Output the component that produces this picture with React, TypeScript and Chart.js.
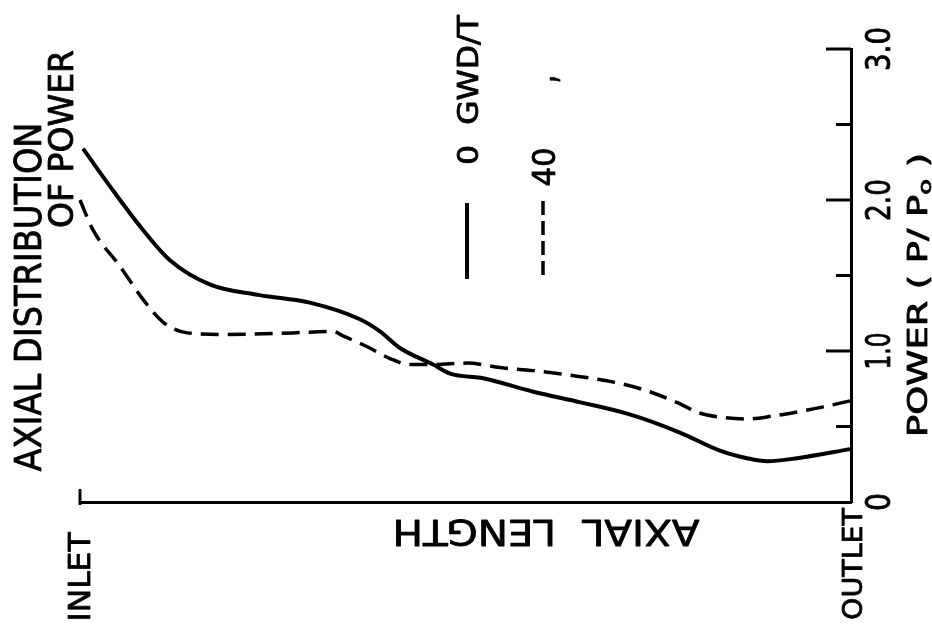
import React, { useEffect, useRef } from "react";
import { Chart, registerables } from "chart.js";

Chart.register(...registerables);

// Axial position (0 = inlet, 1 = outlet) and relative power P/Po
const axialPos0 = [0.004, 0.039, 0.082, 0.117, 0.169, 0.233, 0.298, 0.363, 0.389, 0.415, 0.458, 0.48, 0.523, 0.588, 0.649, 0.713, 0.778, 0.83, 0.865, 0.891, 0.93, 0.999];
const power0 = [2.34, 2.09, 1.8, 1.6, 1.44, 1.37, 1.32, 1.21, 1.13, 1.02, 0.91, 0.85, 0.82, 0.73, 0.66, 0.58, 0.46, 0.34, 0.29, 0.27, 0.29, 0.35];

const axialPos40 = [0, 0.017, 0.052, 0.082, 0.108, 0.139, 0.191, 0.276, 0.328, 0.341, 0.372, 0.402, 0.428, 0.458, 0.502, 0.545, 0.588, 0.649, 0.696, 0.733, 0.774, 0.803, 0.834, 0.866, 0.899, 0.934, 0.964, 0.999];
const power40 = [2.0, 1.8, 1.56, 1.34, 1.19, 1.12, 1.11, 1.12, 1.13, 1.1, 1.03, 0.95, 0.91, 0.91, 0.92, 0.89, 0.87, 0.83, 0.79, 0.74, 0.66, 0.59, 0.56, 0.55, 0.57, 0.6, 0.63, 0.67];

const majorTicks = [0, 1, 2, 3];
const majorTickLabels = ["0", "1.0", "2.0", "3.0"];
const majorLabelLengths = [18, 37, 42, 44];
const minorTicks = [0.5, 1.5, 2.5];

const burnupLabels = ["0  GWD/T", "40"];

const FONT = '"DejaVu Sans"';
const CAP = 0.729;

type Piece = { text: string; rel?: number; shift?: number };

// Draw a run of text centred at (cx, cy), rotated, with cap height capH and
// squeezed/stretched along its baseline to the given length.
function drawRun(
  ctx: CanvasRenderingContext2D,
  pieces: Piece[],
  cx: number,
  cy: number,
  angle: number,
  capH: number,
  length: number
) {
  const size = capH / CAP;
  ctx.save();
  ctx.translate(cx, cy);
  ctx.rotate(angle);
  let total = 0;
  const widths = pieces.map((p) => {
    ctx.font = `${size * (p.rel ?? 1)}px ${FONT}`;
    const w = ctx.measureText(p.text).width;
    total += w;
    return w;
  });
  const sx = length / total;
  ctx.scale(sx, 1);
  ctx.fillStyle = "#000";
  ctx.strokeStyle = "#000";
  ctx.lineWidth = 0.8;
  ctx.lineJoin = "round";
  ctx.textAlign = "left";
  ctx.textBaseline = "alphabetic";
  let x = -total / 2;
  pieces.forEach((p, i) => {
    ctx.font = `${size * (p.rel ?? 1)}px ${FONT}`;
    const y = capH / 2 + (p.shift ?? 0) * capH;
    ctx.fillText(p.text, x, y);
    ctx.strokeText(p.text, x, y);
    x += widths[i];
  });
  ctx.restore();
}

const UP = -Math.PI / 2;

const decorations = {
  id: "decorations",
  afterDraw(chart: any) {
    const ctx: CanvasRenderingContext2D = chart.ctx;
    const xs = chart.scales.x;
    const ys = chart.scales.y;
    const axisX = xs.getPixelForValue(1);
    const inletX = xs.getPixelForValue(0);
    const baseY = ys.getPixelForValue(0);

    ctx.save();
    ctx.strokeStyle = "#000";
    ctx.lineCap = "butt";
    ctx.lineWidth = 3;
    // power axis tick marks, pointing into the plot
    majorTicks.forEach((v) => {
      if (v === 0) return;
      const y = ys.getPixelForValue(v);
      ctx.beginPath();
      ctx.moveTo(axisX - 25, y);
      ctx.lineTo(axisX, y);
      ctx.stroke();
    });
    minorTicks.forEach((v) => {
      const y = ys.getPixelForValue(v);
      ctx.beginPath();
      ctx.moveTo(axisX - 15, y);
      ctx.lineTo(axisX, y);
      ctx.stroke();
    });
    // inlet marker
    ctx.beginPath();
    ctx.moveTo(inletX, baseY + 3);
    ctx.lineTo(inletX, baseY - 13);
    ctx.stroke();

    // legend samples
    ctx.lineWidth = 4;
    ctx.beginPath();
    ctx.moveTo(467, 203);
    ctx.lineTo(467, 279);
    ctx.stroke();
    ctx.lineWidth = 3.5;
    ctx.setLineDash([14, 6]);
    ctx.beginPath();
    ctx.moveTo(543, 201);
    ctx.lineTo(543, 279);
    ctx.stroke();
    ctx.setLineDash([]);
    ctx.restore();

    // power tick labels
    majorTicks.forEach((v, i) => {
      const y = ys.getPixelForValue(v);
      drawRun(ctx, [{ text: majorTickLabels[i] }], axisX + 27, y, UP, 24, majorLabelLengths[i]);
    });

    // titles and labels
    drawRun(ctx, [{ text: "AXIAL DISTRIBUTION" }], 27, 297, UP, 27, 349);
    drawRun(ctx, [{ text: "OF POWER" }], 60, 139, UP, 25, 178);
    drawRun(
      ctx,
      [{ text: "POWER ( P/ P" }, { text: "o", rel: 0.7, shift: 0.25 }, { text: " )" }],
      917,
      295,
      UP,
      19,
      284
    );
    drawRun(ctx, [{ text: "INLET" }], inletX - 1, 577, UP, 22, 89);
    drawRun(ctx, [{ text: "OUTLET" }], axisX + 1, 564, UP, 20, 112);
    drawRun(ctx, [{ text: "AXIAL  LENGTH" }], 546, 533, Math.PI, 26, 307);

    // legend labels
    drawRun(ctx, [{ text: burnupLabels[0] }], 467, 90, UP, 21, 150);
    drawRun(ctx, [{ text: burnupLabels[1] }], 543, 167, UP, 23, 39);
    drawRun(ctx, [{ text: "," }], 540, 79, UP, 30, 9);
  },
};

export default function App() {
  const ref = useRef<HTMLCanvasElement | null>(null);

  useEffect(() => {
    if (!ref.current) return;
    const chart = new Chart(ref.current, {
      type: "line",
      data: {
        datasets: [
          {
            label: burnupLabels[0],
            data: axialPos0.map((x, i) => ({ x, y: power0[i] })),
            borderColor: "#000",
            borderWidth: 4,
            pointRadius: 0,
            cubicInterpolationMode: "monotone",
            fill: false,
            clip: false as any,
          },
          {
            label: burnupLabels[1],
            data: axialPos40.map((x, i) => ({ x, y: power40[i] })),
            borderColor: "#000",
            borderWidth: 3.5,
            borderDash: [18, 9],
            pointRadius: 0,
            cubicInterpolationMode: "monotone",
            fill: false,
            clip: false as any,
          },
        ],
      },
      options: {
        responsive: false,
        animation: false,
        events: [],
        layout: { padding: { left: 80, right: 81, top: 49, bottom: 123 } },
        plugins: {
          legend: { display: false },
          tooltip: { enabled: false },
          title: { display: false },
        },
        scales: {
          x: {
            type: "linear",
            min: 0,
            max: 1,
            ticks: { display: false },
            grid: { display: false, drawTicks: false },
            border: { display: true, color: "#000", width: 3 },
            afterFit: (s: any) => {
              s.height = 0;
            },
          },
          y: {
            position: "right",
            min: 0,
            max: 3,
            ticks: { display: false },
            grid: { display: false, drawTicks: false },
            border: { display: true, color: "#000", width: 3 },
            afterFit: (s: any) => {
              s.width = 0;
            },
          },
        },
      },
      plugins: [decorations],
    });
    return () => chart.destroy();
  }, []);

  return (
    <div style={{ position: "fixed", left: 0, top: 0, width: 932, height: 625, background: "#fff" }}>
      <canvas ref={ref} width={932} height={625} />
    </div>
  );
}
